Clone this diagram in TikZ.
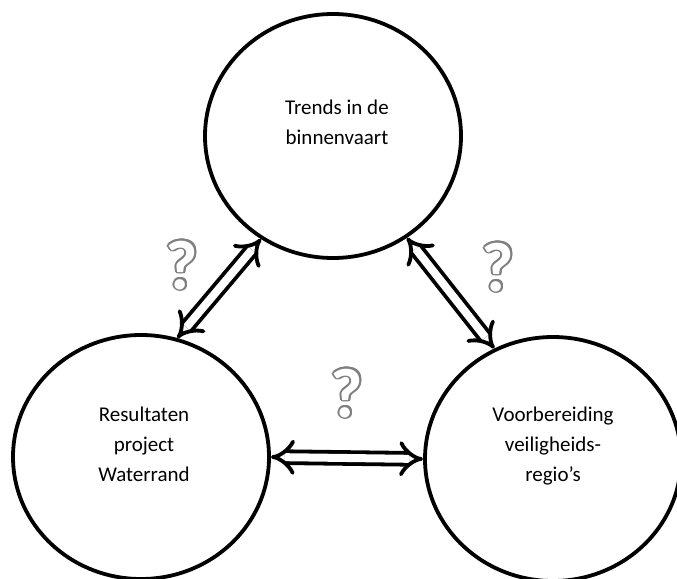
\documentclass[tikz,border=0pt]{standalone}
\usepackage{fontspec}
\setmainfont{Carlito}
\usepackage{contour}
\usetikzlibrary{arrows.meta,positioning,shapes.geometric,calc}
\definecolor{qgray}{HTML}{7F7F7F}
\contourlength{1.8pt}

\begin{document}
\begin{tikzpicture}[x=1pt,y=-1pt,
    bubble/.style={ellipse,draw=black,line width=3.8pt,fill=white,minimum width=256pt,minimum height=244pt},
    bubbletext/.style={align=center,font=\fontsize{21}{30}\selectfont},
    link/.style={double=white,double distance=8pt,line width=3.8pt,{Implies}-{Implies}},
    query/.style={font=\bfseries\fontsize{70}{70}\selectfont}]
    \useasboundingbox (0,0) rectangle (677,578);
    \node[bubble] (trends) at (333,136) {};
    \node[bubble] (waterrand) at (141,457) {};
    \node[bubble] (regios) at (553,459) {};
    \node[bubbletext] (trendstext) at (337,122) {Trends in de\\binnenvaart};
    \node[bubbletext] (waterrandtext) at (144,444) {Resultaten\\project\\Waterrand};
    \node[bubbletext] (regiostext) at (553,446) {Voorbereiding\\veiligheids-\\regio’s};
    \draw[link] (waterrand.73) -- (trends.235);
    \draw[link] (trends.306) -- (regios.118);
    \draw[link] (waterrand.east) -- (regios.west);
    \node[query] (qleft) at (182,266) {\contour{qgray}{\textcolor{white}{?}}};
    \node[query] (qright) at (498,268) {\contour{qgray}{\textcolor{white}{?}}};
    \node[query] (qmid) at (347,394) {\contour{qgray}{\textcolor{white}{?}}};
\end{tikzpicture}
\end{document}
